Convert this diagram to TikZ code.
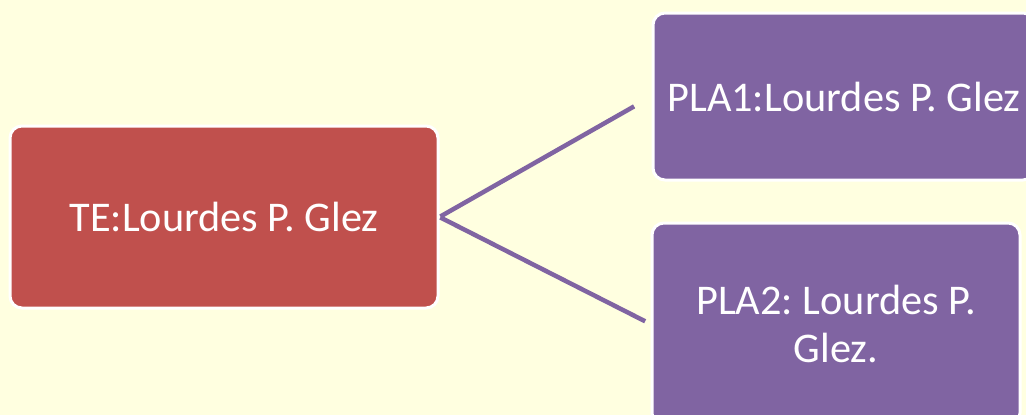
\documentclass[tikz,border=0pt]{standalone}
\usepackage{fontspec}
\setmainfont{Carlito}
\usepackage{xcolor}
\usetikzlibrary{positioning}
\definecolor{bgyellow}{HTML}{FFFFE0}
\definecolor{boxred}{HTML}{C0504D}
\definecolor{boxpurple}{HTML}{8064A2}
\tikzset{
    box/.style={rectangle, rounded corners=12pt, draw=white, line width=3pt, text=white, align=center, inner sep=0pt, font=\fontsize{42.3}{48}\selectfont\frenchspacing},
    redbox/.style={box, fill=boxred, minimum width=428pt, minimum height=182pt},
    purplebox/.style={box, fill=boxpurple, minimum width=368pt},
    link/.style={boxpurple, line width=4.5pt}
}

\begin{document}
\begin{tikzpicture}[x=1pt, y=-1pt]
    % Background
    \clip (0,0) rectangle (1026,415);
    \fill[bgyellow] (0,0) rectangle (1026,415);
    % Boxes
    \node[redbox] (te) at (224,217) {TE:Lourdes P. Glez};
    \node[purplebox, minimum width=382pt, minimum height=167pt] (pla1) at (844,96.5) {PLA1:Lourdes P. Glez};
    \node[purplebox, minimum height=202pt] (pla2) at (836,324) {PLA2: Lourdes P.\\Glez.};
    % Links
    \draw[link, shorten <=1pt, shorten >=20pt] (te.east) -- (pla1.west);
    \draw[link, shorten <=1pt, shorten >=6pt] (te.east) -- (pla2.west);
\end{tikzpicture}
\end{document}
